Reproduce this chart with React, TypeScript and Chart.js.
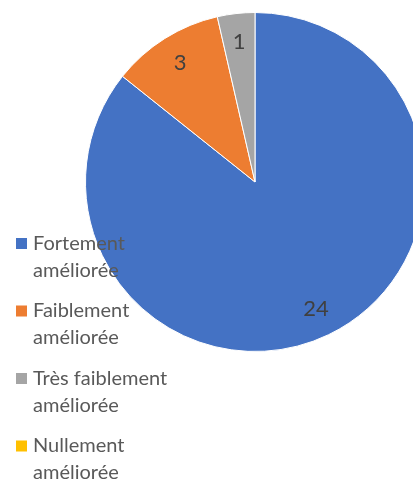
import React, { useEffect, useRef } from "react";
import { Chart, registerables } from "chart.js";

Chart.register(...registerables);

const categories = [
  "Fortement améliorée",
  "Faiblement améliorée",
  "Très faiblement améliorée",
  "Nullement améliorée",
];
const values = [24, 3, 1, 0];
const colors = ["#4472C4", "#ED7D31", "#A5A5A5", "#FFC000"];

const FONT = "Lato, 'Open Sans', sans-serif";

const splitLabel = (s: string): string[] => {
  const i = s.lastIndexOf(" ");
  return i > 0 ? [s.slice(0, i), s.slice(i + 1)] : [s];
};

const labelsPlugin = {
  id: "sliceLabels",
  afterDatasetsDraw(chart: any) {
    const ctx = chart.ctx;
    const meta = chart.getDatasetMeta(0);
    const data = chart.data.datasets[0].data as number[];
    ctx.save();
    ctx.font = `22px ${FONT}`;
    ctx.fillStyle = "#404040";
    ctx.textAlign = "center";
    ctx.textBaseline = "middle";
    meta.data.forEach((arc: any, i: number) => {
      if (!data[i]) return;
      const p = arc.getProps(["x", "y", "startAngle", "endAngle", "outerRadius"], true);
      const mid = (p.startAngle + p.endAngle) / 2;
      const d = p.outerRadius * 0.83;
      ctx.fillText(String(data[i]), p.x + Math.cos(mid) * d, p.y + Math.sin(mid) * d);
    });
    ctx.restore();
  },
};

const legendPlugin = {
  id: "wrappedLegend",
  afterDraw(chart: any) {
    const ctx = chart.ctx;
    const labels = chart.data.labels as string[];
    const bg = chart.data.datasets[0].backgroundColor as string[];
    ctx.save();
    ctx.font = `20px ${FONT}`;
    ctx.textAlign = "left";
    ctx.textBaseline = "middle";
    labels.forEach((lab, i) => {
      const y0 = 243.5 + i * 67.5;
      ctx.fillStyle = bg[i];
      ctx.fillRect(16, y0 - 5.5, 11, 11);
      ctx.fillStyle = "#595959";
      splitLabel(lab).forEach((line, j) => {
        ctx.fillText(line, 33, y0 + j * 27);
      });
    });
    ctx.restore();
  },
};

export default function App() {
  const ref = useRef<HTMLCanvasElement | null>(null);
  useEffect(() => {
    if (!ref.current) return;
    const chart = new Chart(ref.current, {
      type: "pie",
      data: {
        labels: categories,
        datasets: [
          {
            data: values,
            backgroundColor: colors,
            borderColor: "#ffffff",
            borderWidth: 1,
          },
        ],
      },
      options: {
        responsive: false,
        animation: false,
        devicePixelRatio: 1,
        layout: { padding: { left: 85, right: 5, top: 12, bottom: 129 } },
        plugins: {
          legend: { display: false },
          tooltip: { enabled: false },
        },
      },
      plugins: [labelsPlugin, legendPlugin],
    });
    return () => chart.destroy();
  }, []);
  return (
    <div
      style={{
        position: "fixed",
        left: 0,
        top: 0,
        width: 413,
        height: 481,
        overflow: "hidden",
        background: "#ffffff",
      }}
    >
      <canvas ref={ref} width={430} height={481} style={{ display: "block" }} />
    </div>
  );
}
